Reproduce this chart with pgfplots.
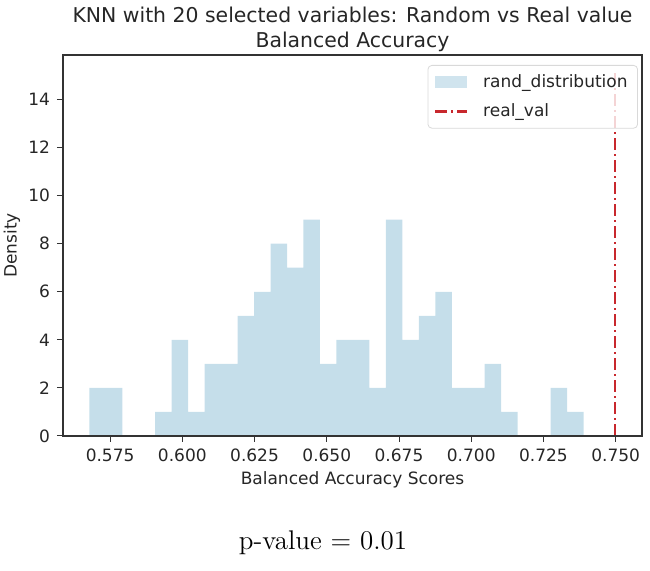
\documentclass[border=0pt]{standalone}
\usepackage{fontspec}
\usepackage{pgfplots}
\pgfplotsset{compat=1.18}
\newfontfamily\dejavu{DejaVu Sans}
\definecolor{histblue}{RGB}{197,222,234}
\definecolor{realred}{RGB}{200,40,45}
\begin{document}
\begin{tikzpicture}
\path[use as bounding box] (0,0) rectangle (325pt,285.5pt);
\begin{axis}[
  at={(31.5pt,67.5pt)}, anchor=south west,
  scale only axis, width=289.5pt, height=190.5pt,
  axis on top=true,
  xmin=0.5587, xmax=0.7591, ymin=0, ymax=15.85,
  xtick={0.575,0.600,0.625,0.650,0.675,0.700,0.725,0.750},
  ytick={0,2,4,6,8,10,12,14},
  xticklabel style={/pgf/number format/.cd,fixed,fixed zerofill,precision=3},
  /pgf/number format/assume math mode=true,
  tick align=outside, xtick pos=bottom, ytick pos=left,
  major tick length=3pt,
  tick style={black!80, line width=0.5pt},
  axis line style={black!80, line width=0.6pt},
  ticklabel style={font=\dejavu\fontsize{8.5}{10}\selectfont, color=black!85},
  xlabel={Balanced Accuracy Scores},
  ylabel={Density},
  label style={font=\dejavu\fontsize{8.5}{10}\selectfont, color=black!85},
  xlabel style={at={(axis description cs:0.5,-0.1155)}, anchor=center},
  ylabel style={at={(axis description cs:-0.088,0.5)}, anchor=center},
  title={KNN with 20 selected variables: Random vs Real value\\Balanced Accuracy},
  title style={at={(axis description cs:0.5,1)}, anchor=south, yshift=-8pt, align=center,
    font=\dejavu\fontsize{10.2}{12.8}\selectfont, color=black!85},
  legend style={at={(axis description cs:1,1)}, anchor=north east, xshift=-2pt, yshift=-5pt,
    draw=black!15, rounded corners=2pt, fill=white, fill opacity=0.8, text opacity=1,
    font=\dejavu\fontsize{8.5}{10}\selectfont, text=black!85,
    inner xsep=3pt, inner ysep=2.5pt, row sep=2.5pt},
  legend cell align=left,
]
\addplot[ybar interval, fill=histblue, draw=none, forget plot] table[x=x, y=y] {
x y
0.56780 2
0.57350 2
0.57921 0
0.58491 0
0.59061 1
0.59632 4
0.60202 1
0.60772 3
0.61342 3
0.61913 5
0.62483 6
0.63053 8
0.63624 7
0.64194 9
0.64764 3
0.65335 4
0.65905 4
0.66475 2
0.67045 9
0.67616 4
0.68186 5
0.68756 6
0.69327 2
0.69897 2
0.70467 3
0.71038 1
0.71608 0
0.72178 0
0.72748 2
0.73319 1
0.73889 1
};
\addlegendimage{legend image code/.code={\path[draw=none, fill=none] (0pt,0pt) -- (22pt,0pt);\fill[histblue, draw=none, sharp corners] (0pt,-3pt) rectangle (16pt,3pt);}}
\addlegendentry{rand\_distribution}
\addplot[realred, line width=1.3pt, dash pattern=on 6pt off 2pt on 1pt off 2pt,
  legend image code/.code={\path[draw=none, fill=none] (0pt,0pt) -- (22pt,0pt);\draw[realred, sharp corners, line width=1.3pt, dash pattern=on 6pt off 2pt on 1pt off 2pt] (0pt,0pt) -- (16pt,0pt);}]
  coordinates {(0.7497,0) (0.7497,15.1)};
\addlegendentry{real\_val}
\end{axis}
\node at (161.5pt,14pt) {\fontsize{13.5}{16}\selectfont p-value = 0.01};
\end{tikzpicture}
\end{document}
